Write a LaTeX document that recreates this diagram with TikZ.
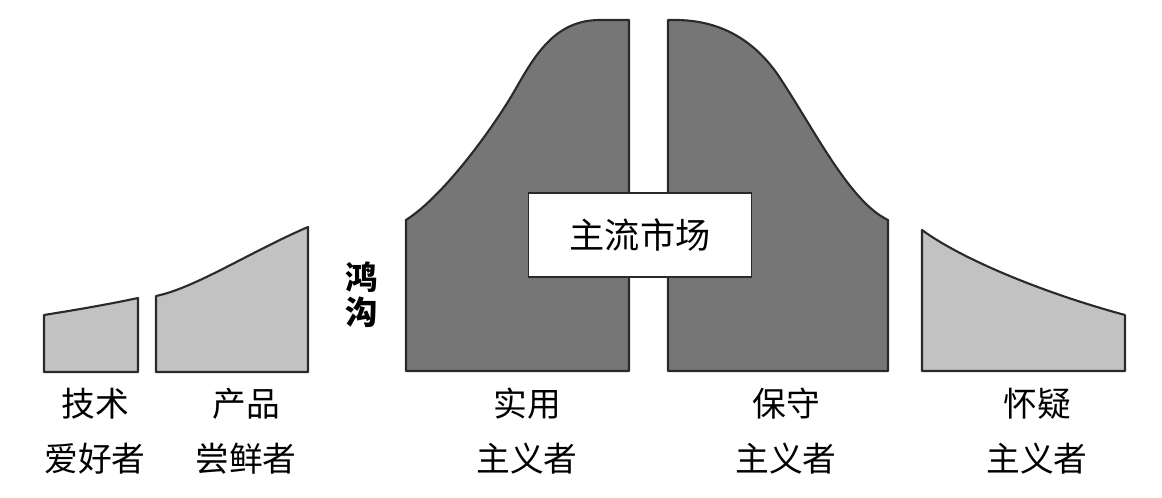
\documentclass[tikz,border=0pt]{standalone}
\usepackage{fontspec}
\newfontfamily\cjk{Noto Sans CJK SC}
\usepackage{tikz}
\usetikzlibrary{positioning}
\definecolor{lightfill}{HTML}{C2C2C2}
\definecolor{darkfill}{HTML}{767676}
\definecolor{edgegray}{HTML}{2A2A2A}

\begin{document}
\begin{tikzpicture}[
    x=0.025cm, y=-0.025cm,
    % 浅色区块样式
    light block/.style={
        draw=edgegray,       % 深色边框
        fill=lightfill,      % 浅灰填充
        line width=1.5pt,
        line join=round
    },
    % 深色区块样式（主流市场）
    dark block/.style={
        draw=edgegray,
        fill=darkfill,       % 深灰填充
        line width=1.5pt,
        line join=round
    },
    % 底部标签样式
    group label/.style={
        font=\cjk\fontsize{24}{39}\selectfont,
        align=center,
        inner sep=0pt
    },
    % 中间白框样式
    market box/.style={
        draw=edgegray,
        fill=white,
        line width=1pt,
        minimum width=5.575cm,
        minimum height=2.1cm,
        font=\cjk\fontsize{25}{25}\selectfont
    }
]
\useasboundingbox (0,0) rectangle (1162,498);

% 技术爱好者
\draw[light block] (44,372) -- (44,315) .. controls (75,310) and (105,305) .. (138,298) -- (138,372) -- cycle;
% 产品尝鲜者
\draw[light block] (156,372) -- (156,296) .. controls (195,288) and (250,252) .. (308,227) -- (308,372) -- cycle;
% 实用主义者
\draw[dark block] (406,371) -- (406,220) .. controls (445,195) and (495,125) .. (515,90)
    .. controls (535,55) and (555,20) .. (600,20) -- (629,20) -- (629,371) -- cycle;
% 保守主义者
\draw[dark block] (668,371) -- (668,20) -- (675,20) .. controls (720,20) and (755,40) .. (780,78)
    .. controls (815,131) and (850,202) .. (888,220) -- (888,371) -- cycle;
% 怀疑主义者
\draw[light block] (922,371) -- (922,230) .. controls (960,258) and (1040,292) .. (1125,315) -- (1125,371) -- cycle;

% 主流市场
\node[market box] (market) at (640,235) {主流市场};

% 鸿沟
\node[font=\cjk\bfseries\fontsize{23}{25}\selectfont, align=center, inner sep=0pt] (chasm) at (362,295) {鸿\\沟};

% 底部标签
\node[group label] (enthusiast) at (95,431) {技术\\爱好者};
\node[group label] (visionary) at (246,431) {产品\\尝鲜者};
\node[group label] (pragmatist) at (527,431) {实用\\主义者};
\node[group label] (conservative) at (786,431) {保守\\主义者};
\node[group label] (skeptic) at (1037,431) {怀疑\\主义者};

\end{tikzpicture}
\end{document}
